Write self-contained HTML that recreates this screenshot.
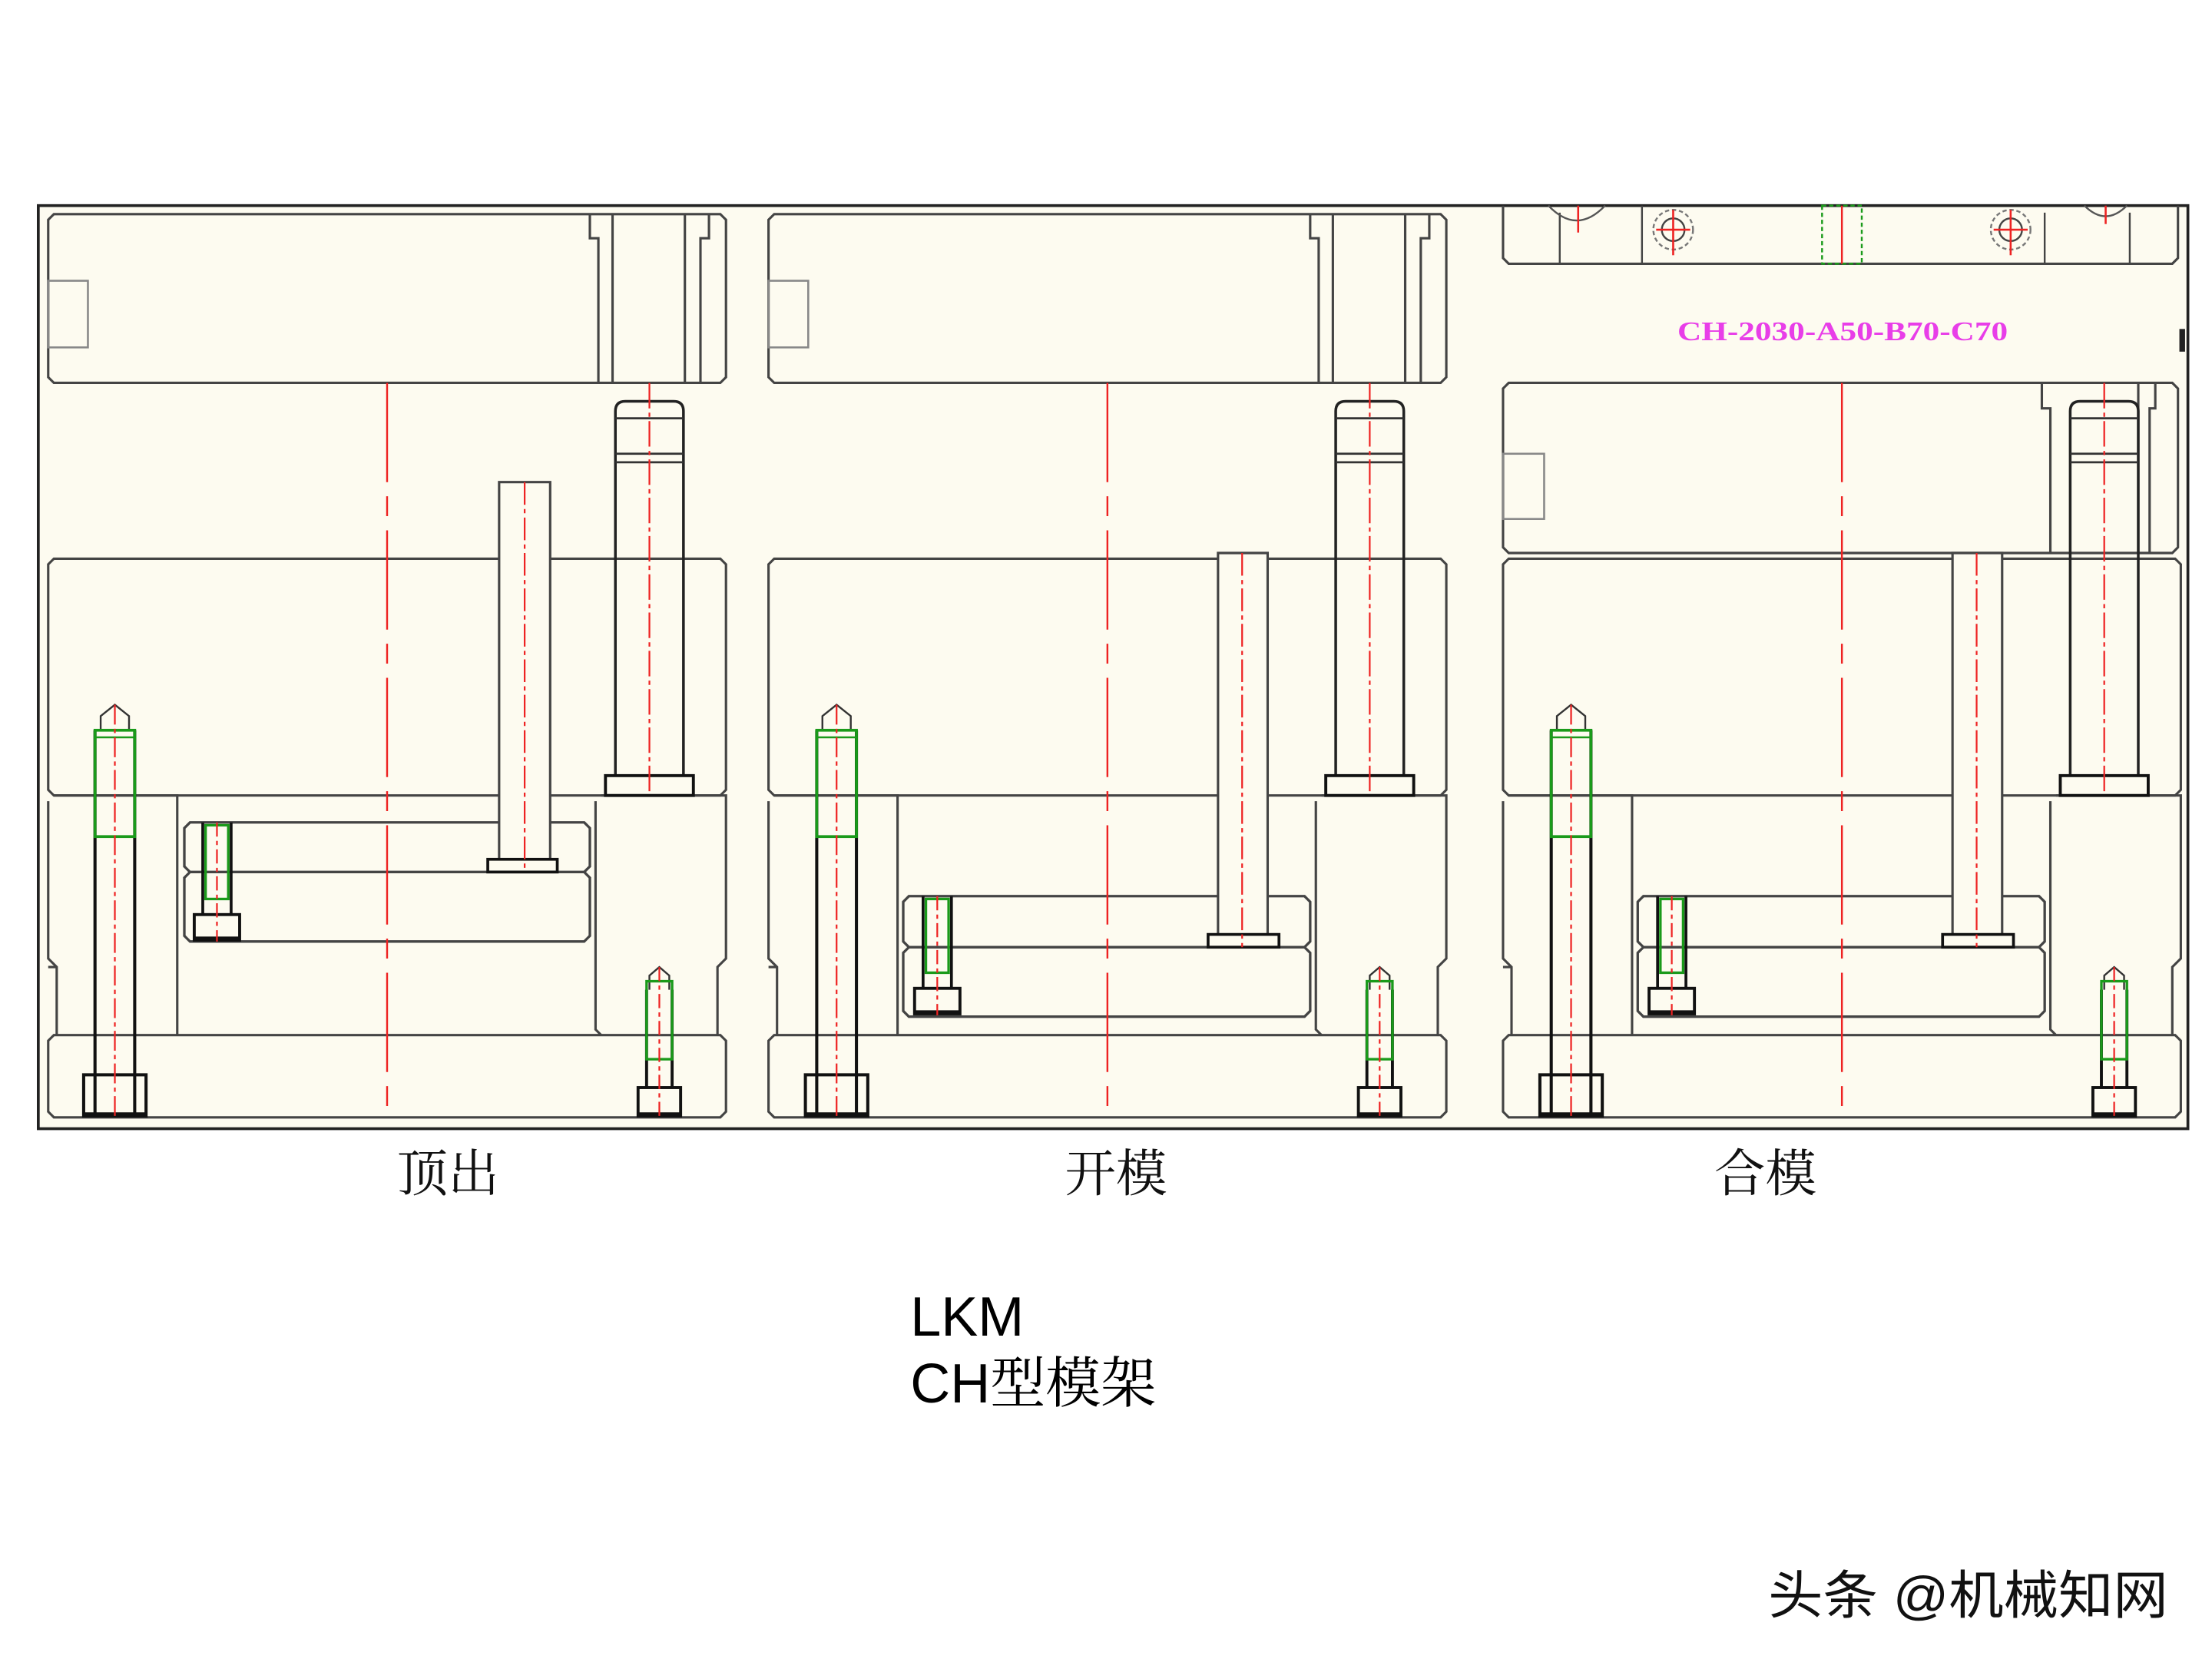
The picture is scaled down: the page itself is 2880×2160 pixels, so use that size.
<!DOCTYPE html>
<html><head><meta charset="utf-8"><style>
html,body{margin:0;padding:0;background:#fff;}
svg{display:block;}
</style></head><body>
<svg width="2880" height="2160" viewBox="0 0 1560 1170" xmlns="http://www.w3.org/2000/svg">
<defs>
<g id="screwL">
  <path d="M-14,515 L-14,785 M14,515 L14,785" stroke="#111" stroke-width="2.2" fill="none"/>
  <path d="M-10,515 L-10,505 L0,497 L10,505 L10,515" stroke="#333" stroke-width="1.3" fill="none"/>
  <rect x="-14" y="515" width="28" height="75" fill="none" stroke="#1a9a1a" stroke-width="2"/>
  <line x1="-14" y1="520" x2="14" y2="520" stroke="#1a9a1a" stroke-width="1.4"/>
  <rect x="-22" y="758" width="44" height="29" fill="none" stroke="#111" stroke-width="2.2"/>
  <line x1="-22" y1="786" x2="22" y2="786" stroke="#111" stroke-width="3"/>
  <line x1="0" y1="497" x2="0" y2="788" stroke="#e22" stroke-width="1.2" stroke-dasharray="14,3,3,3"/>
</g>
<g id="screwR">
  <path d="M-9,698 L-9,767 M9,698 L9,767" stroke="#111" stroke-width="2.1" fill="none"/>
  <path d="M-7,698 L-7,688 L0,682 L7,688 L7,698" stroke="#333" stroke-width="1.3" fill="none"/>
  <rect x="-9" y="692" width="18" height="55" fill="none" stroke="#1a9a1a" stroke-width="1.8"/>
  <rect x="-15" y="767" width="30" height="20" fill="none" stroke="#111" stroke-width="2.1"/>
  <line x1="-15" y1="786" x2="15" y2="786" stroke="#111" stroke-width="3"/>
  <line x1="0" y1="682" x2="0" y2="788" stroke="#e22" stroke-width="1.2" stroke-dasharray="10,3,3,3"/>
</g>
<g id="screwS">
  <path d="M-10,580 L-10,645 M10,580 L10,645" stroke="#111" stroke-width="2" fill="none"/>
  <rect x="-8" y="582" width="16" height="52" fill="none" stroke="#1a9a1a" stroke-width="1.8"/>
  <rect x="-16" y="645" width="32" height="18" fill="none" stroke="#111" stroke-width="2.1"/>
  <line x1="-16" y1="662" x2="16" y2="662" stroke="#111" stroke-width="3"/>
  <line x1="0" y1="580" x2="0" y2="664" stroke="#e22" stroke-width="1.2" stroke-dasharray="10,3,3,3"/>
</g>
<g id="guide">
  <path d="M-24,547 L-24,290 Q-24,283 -17,283 L17,283 Q24,283 24,290 L24,547" stroke="#222" stroke-width="1.9" fill="none"/>
  <line x1="-24" y1="295" x2="24" y2="295" stroke="#333" stroke-width="1.5"/>
  <line x1="-24" y1="320" x2="24" y2="320" stroke="#333" stroke-width="1.5"/>
  <line x1="-24" y1="326" x2="24" y2="326" stroke="#333" stroke-width="1.5"/>
  <rect x="-31" y="547" width="62" height="14" fill="none" stroke="#111" stroke-width="2.1"/>
  <line x1="0" y1="270" x2="0" y2="561" stroke="#e22" stroke-width="1.2" stroke-dasharray="18,3,3,3"/>
</g>
<g id="plates">
  <path d="M38,394 L508,394 L512,398 L512,557 L508,561 L38,561 L34,557 L34,398 Z" fill="none" stroke="#444" stroke-width="1.7"/>
  <path d="M38,561 L125,561 L125,730 M34,565 L34,676 L40,682 L40,730" fill="none" stroke="#444" stroke-width="1.7"/>
  <path d="M424,561 L512,561 L512,676 L506,682 L506,730 M420,565 L420,726 L424,730" fill="none" stroke="#444" stroke-width="1.7"/>
  <line x1="40" y1="682" x2="34" y2="682" stroke="#444" stroke-width="1.7"/>
  <path d="M38,730 L508,730 L512,734 L512,784 L508,788 L38,788 L34,784 L34,734 Z" fill="none" stroke="#444" stroke-width="1.7"/>
</g>
<g id="topPlate">
  <path d="M38,151 L508,151 L512,155 L512,266 L508,270 L38,270 L34,266 L34,155 Z" fill="none" stroke="#444" stroke-width="1.7"/>
  <rect x="34" y="198" width="28" height="47" fill="none" stroke="#888" stroke-width="1.4"/>
  <path d="M416,151 L416,168 L422,168 L422,270 M432,151 L432,270 M483,151 L483,270 M500,151 L500,168 L494,168 L494,270" fill="none" stroke="#444" stroke-width="1.7"/>
</g>
<g id="ejLow">
  <path d="M641,632 L920,632 L924,636 L924,664 L920,668 L641,668 L637,664 L637,636 Z" fill="none" stroke="#444" stroke-width="1.8"/>
  <path d="M641,668 L920,668 L924,672 L924,713 L920,717 L641,717 L637,713 L637,672 Z" fill="none" stroke="#444" stroke-width="1.8"/>
</g>
</defs>

<rect x="27" y="145" width="1516" height="651" fill="#fdfbf0" stroke="#222" stroke-width="2"/>

<!-- Panel 1 -->
<use href="#topPlate"/>
<use href="#plates"/>
<path d="M134,580 L412,580 L416,584 L416,611 L412,615 L134,615 L130,611 L130,584 Z" fill="none" stroke="#444" stroke-width="1.8"/>
<path d="M134,615 L412,615 L416,619 L416,660 L412,664 L134,664 L130,660 L130,619 Z" fill="none" stroke="#444" stroke-width="1.8"/>
<line x1="273" y1="270" x2="273" y2="788" stroke="#e22" stroke-width="1.3" stroke-dasharray="70,10,14,10"/>
<path d="M352,606 L352,340 L388,340 L388,606" fill="#fdfbf0" stroke="#444" stroke-width="1.7"/>
<rect x="344" y="606" width="49" height="9" fill="none" stroke="#111" stroke-width="2"/>
<line x1="370" y1="340" x2="370" y2="615" stroke="#e22" stroke-width="1.2" stroke-dasharray="16,3,3,3"/>
<use href="#guide" x="458"/>
<use href="#screwL" x="81"/>
<use href="#screwS" x="153"/>
<use href="#screwR" x="465"/>

<!-- Panel 2 -->
<use href="#topPlate" x="508"/>
<use href="#plates" x="508"/>
<use href="#ejLow"/>
<line x1="781" y1="270" x2="781" y2="788" stroke="#e22" stroke-width="1.3" stroke-dasharray="70,10,14,10"/>
<path d="M859,659 L859,390 L894,390 L894,659" fill="#fdfbf0" stroke="#444" stroke-width="1.7"/>
<rect x="852" y="659" width="50" height="9" fill="none" stroke="#111" stroke-width="2"/>
<line x1="876" y1="390" x2="876" y2="668" stroke="#e22" stroke-width="1.2" stroke-dasharray="16,3,3,3"/>
<use href="#guide" x="966"/>
<use href="#screwL" x="590"/>
<use href="#screwS" x="661" y="52"/>
<use href="#screwR" x="973"/>

<!-- Panel 3 -->
<path d="M1060,145 L1060,182 L1064,186 L1532,186 L1536,182 L1536,145" fill="none" stroke="#444" stroke-width="1.7"/>
<g stroke="#444" stroke-width="1.3" fill="none">
  <line x1="1100" y1="150" x2="1100" y2="186"/><line x1="1158" y1="145" x2="1158" y2="186"/>
  <line x1="1442" y1="150" x2="1442" y2="186"/><line x1="1502" y1="150" x2="1502" y2="186"/>
  <circle cx="1180" cy="162" r="14" stroke="#777" stroke-dasharray="3,2"/>
  <circle cx="1180" cy="162" r="8"/>
  <circle cx="1418" cy="162" r="14" stroke="#777" stroke-dasharray="3,2"/>
  <circle cx="1418" cy="162" r="8"/>
  <path d="M1092,145 Q1112,166 1132,145" stroke="#555"/>
  <path d="M1470,145 Q1485,160 1500,145" stroke="#555"/>
</g>
<g stroke="#e22" stroke-width="1.4">
  <line x1="1168" y1="162" x2="1192" y2="162"/><line x1="1180" y1="148" x2="1180" y2="180"/>
  <line x1="1406" y1="162" x2="1430" y2="162"/><line x1="1418" y1="148" x2="1418" y2="180"/>
  <line x1="1113" y1="145" x2="1113" y2="164"/><line x1="1485" y1="145" x2="1485" y2="158"/>
</g>
<rect x="1285" y="145" width="28" height="41" fill="none" stroke="#1a9a1a" stroke-width="1.3" stroke-dasharray="3,2"/>
<line x1="1299" y1="145" x2="1299" y2="186" stroke="#e22" stroke-width="1.3"/>
<text x="1183" y="240" textLength="233" lengthAdjust="spacingAndGlyphs" font-family="'Liberation Serif', serif" font-size="19" font-weight="bold" fill="#e83ee8">CH-2030-A50-B70-C70</text>
<rect x="1537" y="232" width="4" height="16" fill="#222"/>
<path d="M1064,270 L1532,270 L1536,274 L1536,386 L1532,390 L1064,390 L1060,386 L1060,274 Z" fill="none" stroke="#444" stroke-width="1.7"/>
<rect x="1060" y="320" width="29" height="46" fill="none" stroke="#888" stroke-width="1.4"/>
<path d="M1440,270 L1440,288 L1446,288 L1446,390 M1520,270 L1520,288 L1516,288 L1516,390 M1508,270 L1508,390" fill="none" stroke="#444" stroke-width="1.7"/>
<use href="#plates" x="1026"/>
<use href="#ejLow" x="518"/>
<line x1="1299" y1="270" x2="1299" y2="788" stroke="#e22" stroke-width="1.3" stroke-dasharray="70,10,14,10"/>
<path d="M1377,659 L1377,390 L1412,390 L1412,659" fill="#fdfbf0" stroke="#444" stroke-width="1.7"/>
<rect x="1370" y="659" width="50" height="9" fill="none" stroke="#111" stroke-width="2"/>
<line x1="1394" y1="390" x2="1394" y2="668" stroke="#e22" stroke-width="1.2" stroke-dasharray="16,3,3,3"/>
<use href="#guide" x="1484"/>
<use href="#screwL" x="1108"/>
<use href="#screwS" x="1179" y="52"/>
<use href="#screwR" x="1491"/>

<g font-family="'Liberation Serif', 'Noto Serif CJK SC', serif" font-size="36" fill="#111">
  <text x="316" y="840" text-anchor="middle">顶出</text>
  <text x="787" y="840" text-anchor="middle">开模</text>
  <text x="1245" y="840" text-anchor="middle">合模</text>
</g>
<text x="642" y="942" font-family="'Liberation Sans', sans-serif" font-size="39" fill="#000">LKM</text>
<text x="642" y="989" font-family="'Liberation Sans', 'Noto Serif CJK SC', serif" font-size="39" fill="#000">CH<tspan font-family="'Noto Serif CJK SC', serif">型模架</tspan></text>
<text x="1247" y="1138" textLength="282" lengthAdjust="spacingAndGlyphs" font-family="'Liberation Sans', 'Noto Sans CJK SC', sans-serif" font-size="37" fill="#111">头条 @机械知网</text>
</svg>
</body></html>
